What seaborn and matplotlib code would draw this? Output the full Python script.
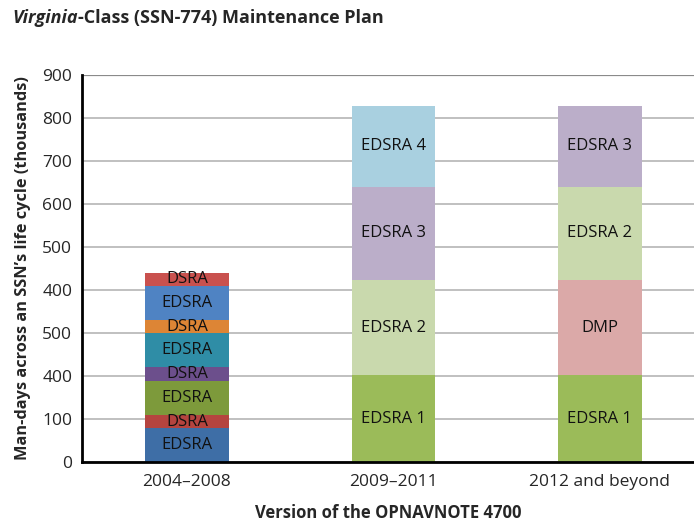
import numpy as np
import pandas as pd
import matplotlib
matplotlib.use("Agg")
import matplotlib.pyplot as plt
import seaborn as sns

# data (thousands of man-days)
categories = ["2004\u20132008", "2009\u20132011", "2012 and beyond"]

bar1_labels = ["EDSRA", "DSRA", "EDSRA", "DSRA", "EDSRA", "DSRA", "EDSRA", "DSRA"]
bar1_values = [79, 30, 79, 33, 79, 30, 79, 31]
bar1_colors = ["#3e6ea6", "#b5443f", "#7d9a3b", "#6c4f8c", "#2f8da6",
               "#dd8535", "#4f83c3", "#c9514e"]

bar2_labels = ["EDSRA 1", "EDSRA 2", "EDSRA 3", "EDSRA 4"]
bar2_values = [202, 221, 217, 188]
bar2_colors = ["#9bbb59", "#c9d9ad", "#bbaec9", "#a9d0e0"]

bar3_labels = ["EDSRA 1", "DMP", "EDSRA 2", "EDSRA 3"]
bar3_values = [202, 221, 217, 188]
bar3_colors = ["#9bbb59", "#dba9a8", "#c9d9ad", "#bbaec9"]

ytick_values = [0, 100, 200, 300, 400, 500, 600, 700, 800, 900]
# the labels as printed on the original (including its typos)
ytick_labels = ["0", "100", "400", "500", "400", "500", "600", "700", "800", "900"]

rows = []
for cat, labs, vals, cols in zip(categories,
                                 [bar1_labels, bar2_labels, bar3_labels],
                                 [bar1_values, bar2_values, bar3_values],
                                 [bar1_colors, bar2_colors, bar3_colors]):
    top = np.cumsum(vals)
    for lab, v, t, c in zip(labs, vals, top, cols):
        rows.append({"version": cat, "segment": lab, "value": v, "top": t, "color": c})
df = pd.DataFrame(rows)

sns.set_theme(style="white")
plt.rcParams["font.family"] = ["Open Sans", "DejaVu Sans"]

fig = plt.figure(figsize=(6.94, 5.24), dpi=100)
ax = fig.add_axes([82 / 694, 62 / 524, 612 / 694, 387 / 524])

# stacked bars: draw cumulative tops from highest to lowest so lower segments cover
for _, r in df.sort_values("top", ascending=False).iterrows():
    sns.barplot(x=[r["version"]], y=[r["top"]], order=categories, color=r["color"],
                saturation=1, width=0.405, errorbar=None, linewidth=0, ax=ax, zorder=2)

for _, r in df.iterrows():
    xi = categories.index(r["version"])
    ax.text(xi, r["top"] - r["value"] / 2, r["segment"], ha="center", va="center",
            fontsize=12, color="#111111", zorder=3)

ax.set_ylim(0, 900)
ax.set_xlim(-0.508, 2.456)
ax.set_yticks(ytick_values)
ax.set_yticklabels(ytick_labels, fontsize=12.5)
ax.tick_params(axis="y", length=0, pad=7)
ax.tick_params(axis="x", which="major", length=0, labelsize=12.5, pad=9)
ax.set_xticks([0.5, 1.5], minor=True)
ax.tick_params(axis="x", which="minor", length=6, width=1, color="black", direction="out")
ax.yaxis.grid(True, color="#b5b5b5", linewidth=1.2, zorder=0)
ax.set_axisbelow(True)
ax.axhline(900, color="#8a8a8a", linewidth=1.6, zorder=1)

for s in ["top", "right"]:
    ax.spines[s].set_visible(False)
for s in ["left", "bottom"]:
    ax.spines[s].set_color("black")
    ax.spines[s].set_linewidth(2)

ax.set_xlabel("Version of the OPNAVNOTE 4700", fontsize=12, fontweight="bold", labelpad=10)
ax.set_ylabel("Man-days across an SSN\u2019s life cycle (thousands)", fontsize=11.8,
              fontweight="bold", labelpad=8)

# title: italic "Virginia" followed directly by the rest of the title
title_y = 1 - 18 / 524
t1 = fig.text(12 / 694, title_y, "Virginia", fontsize=13, fontweight="bold",
              style="italic", va="center", ha="left")
fig.canvas.draw()
bb = t1.get_window_extent(renderer=fig.canvas.get_renderer())
fig.text(bb.x1 / fig.bbox.width, title_y, "-Class (SSN-774) Maintenance Plan", fontsize=13,
         fontweight="bold", va="center", ha="left")

fig.savefig("out.png", dpi=100)
